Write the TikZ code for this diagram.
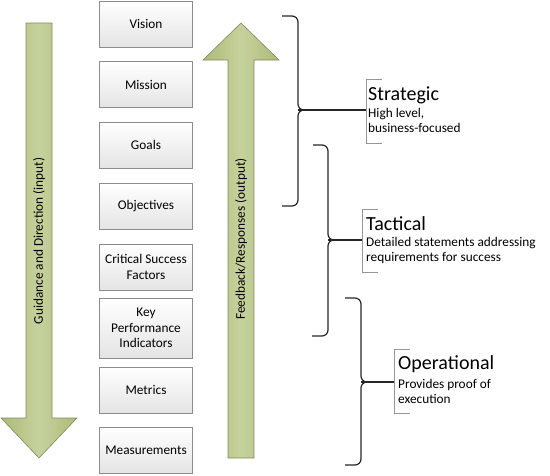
\documentclass[tikz,border=0pt]{standalone}
\usepackage{fontspec}
\setmainfont{Carlito}
\definecolor{arrowedge}{RGB}{128,138,96}
\definecolor{arrowdark}{RGB}{172,186,122}
\definecolor{arrowlight}{RGB}{198,210,156}
\definecolor{boxedge}{RGB}{140,140,140}
\definecolor{boxbottom}{RGB}{228,228,228}
\definecolor{bracketgray}{RGB}{150,150,150}
\begin{document}
\begin{tikzpicture}[x=1pt,y=-1pt,
  lvl/.style={draw=boxedge, line width=0.8pt, top color=white, bottom color=boxbottom,
    minimum width=93pt, minimum height=46pt, align=center, inner sep=1pt,
    font=\fontsize{13.3}{15.5}\selectfont},
  bigarrow/.style={draw=arrowedge, line width=0.6pt, left color=arrowdark, right color=arrowdark, middle color=arrowlight},
  arrowtext/.style={rotate=90, font=\fontsize{13.3}{15.5}\selectfont},
  bracestyle/.style={draw=black!85, line width=1.2pt, rounded corners=6pt},
  bracket/.style={draw=bracketgray, line width=0.9pt},
  ttl/.style={anchor=west, inner sep=0pt, font=\fontsize{20}{22}\selectfont},
  dsc/.style={anchor=north west, inner sep=0pt, align=left, font=\fontsize{13.3}{15.5}\selectfont}
]
\useasboundingbox (0,0) rectangle (550,475);

% down arrow (input)
\path[bigarrow] (26,23) -- (52,23) -- (52,418) -- (77,418) -- (39,458) -- (1,418) -- (26,418) -- cycle;
\node[arrowtext] (guid) at (39,241) {Guidance and Direction (input)};

% up arrow (output)
\path[bigarrow] (241,23) -- (279,60) -- (254,60) -- (254,458) -- (228,458) -- (228,60) -- (203,60) -- cycle;
\node[arrowtext] (feed) at (241,239) {Feedback/Responses (output)};

% level boxes
\node[lvl] (vision) at (146,24) {Vision};
\node[lvl] (mission) at (146,84.5) {Mission};
\node[lvl] (goals) at (146,145) {Goals};
\node[lvl] (objectives) at (146,206.5) {Objectives};
\node[lvl] (csf) at (146,267) {Critical Success\\Factors};
\node[lvl, minimum height=60pt] (kpi) at (146,328) {Key\\Performance\\Indicators};
\node[lvl] (metrics) at (146,390) {Metrics};
\node[lvl] (measure) at (146,450) {Measurements};

% braces
\coordinate (stip) at (298,110);
\coordinate (ttip) at (328,240);
\coordinate (otip) at (361,382);
\draw[bracestyle] (282,16) -- (298,16) -- (stip) -- (310,110);
\draw[bracestyle] (310,110) -- (stip) -- (298,206) -- (282,206);
\draw[bracestyle] (313,145) -- (328,145) -- (ttip) -- (340,240);
\draw[bracestyle] (340,240) -- (ttip) -- (328,336) -- (312,336);
\draw[bracestyle] (345,298) -- (361,298) -- (otip) -- (373,382);
\draw[bracestyle] (373,382) -- (otip) -- (361,465) -- (345,465);

% labels
\node[ttl] (strat) at (368,95) {Strategic};
\node[dsc] (stratd) at (368,108) {High level,\\business-focused};
\node[ttl] (tact) at (366,224) {Tactical};
\node[dsc] (tactd) at (366,237) {Detailed statements addressing\\requirements for success};
\node[ttl] (oper) at (398,364) {Operational};
\node[dsc] (operd) at (398,379) {Provides proof of\\execution};

% label brackets
\coordinate (sb) at (366,110);
\coordinate (tb) at (362,240);
\coordinate (ob) at (394,382);
\draw[bracket] (382,79) -- (366,79) -- (366,143) -- (382,143);
\draw[bracket] (378,209) -- (362,209) -- (362,272) -- (378,272);
\draw[bracket] (410,349) -- (394,349) -- (394,413) -- (410,413);

% connectors
\draw[draw=black!85, line width=1.2pt] (stip) -- (sb);
\draw[draw=black!85, line width=1.2pt] (ttip) -- (tb);
\draw[draw=black!85, line width=1.2pt] (otip) -- (ob);
\end{tikzpicture}
\end{document}
